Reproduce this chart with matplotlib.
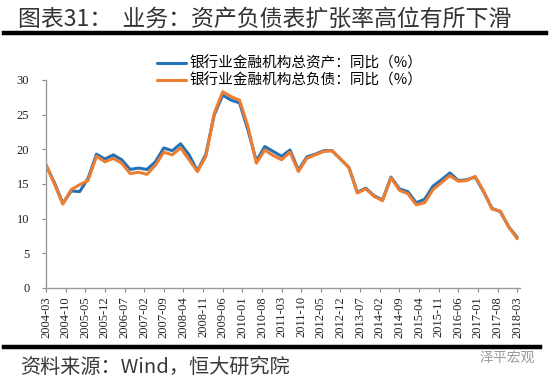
import matplotlib
matplotlib.use("Agg")
import matplotlib.pyplot as plt
from matplotlib.lines import Line2D
import numpy as np
import pandas as pd

plt.rcParams['font.family'] = ['Noto Sans CJK SC', 'DejaVu Sans']

# quarterly observations, 2004-03 .. 2018-03
quarters = pd.period_range('2004-03', '2018-03', freq='Q')
assets_yoy = [17.7, 15.2, 12.2, 14.0, 13.9, 15.8, 19.3, 18.6, 19.2, 18.5,
              17.1, 17.3, 17.1, 18.2, 20.2, 19.8, 20.8, 19.2, 16.9, 19.3,
              25.0, 27.8, 27.1, 26.7, 22.8, 18.3, 20.4, 19.7, 19.0, 19.9,
              17.0, 18.9, 19.3, 19.8, 19.8, 18.6, 17.4, 13.8, 14.4, 13.3,
              12.7, 16.0, 14.3, 13.9, 12.3, 12.8, 14.7, 15.6, 16.6, 15.5,
              15.6, 16.0, 13.9, 11.5, 11.0, 8.8, 7.3]
liab_yoy = [17.8, 15.0, 12.1, 14.2, 14.9, 15.5, 19.0, 18.2, 18.7, 18.0,
            16.5, 16.7, 16.4, 17.7, 19.6, 19.2, 20.2, 18.5, 16.8, 19.0,
            25.2, 28.3, 27.6, 27.1, 23.3, 18.0, 19.9, 19.1, 18.5, 19.6,
            16.8, 18.7, 19.2, 19.7, 19.8, 18.6, 17.4, 13.7, 14.3, 13.2,
            12.6, 15.9, 14.1, 13.6, 12.0, 12.3, 14.2, 15.2, 16.2, 15.4,
            15.5, 16.1, 14.0, 11.4, 11.1, 8.8, 7.1]

tick_labels = ['2004-03', '2004-10', '2005-05', '2005-12', '2006-07', '2007-02',
               '2007-09', '2008-04', '2008-11', '2009-06', '2010-01', '2010-08',
               '2011-03', '2011-10', '2012-05', '2012-12', '2013-07', '2014-02',
               '2014-09', '2015-04', '2015-11', '2016-06', '2017-01', '2017-08',
               '2018-03']

label_assets = '银行业金融机构总资产：同比（%）'
label_liab = '银行业金融机构总负债：同比（%）'

# months since 2004-03
start = pd.Period('2004-03', freq='M')
x = np.array([(q.asfreq('M') - start).n for q in quarters])
tick_x = [(pd.Period(t, freq='M') - start).n for t in tick_labels]

fig = plt.figure(figsize=(5.5, 3.82), dpi=100)
ax = fig.add_axes([46 / 550, 94 / 382, 474 / 550, 208 / 382])

ax.plot(x, assets_yoy, color='#2471B5', lw=2.2, label=label_assets,
        solid_joinstyle='round', solid_capstyle='round')
ax.plot(x, liab_yoy, color='#ED7D31', lw=2.2, label=label_liab,
        solid_joinstyle='round', solid_capstyle='round')

ax.set_xlim(0, 169)
ax.set_ylim(0, 30)
ax.set_yticks(range(0, 31, 5))
ax.set_xticks(tick_x)
ax.set_xticklabels(tick_labels, rotation=90, family='Liberation Serif',
                   fontsize=9, color='#222222')
for t in ax.get_yticklabels():
    t.set_family('Liberation Serif')
    t.set_fontsize(9)
    t.set_color('#222222')
ax.tick_params(axis='y', length=3, pad=9, color='#888888')
ax.tick_params(axis='x', length=3, pad=3, color='#888888')
for s in ['top', 'right']:
    ax.spines[s].set_visible(False)
for s in ['left', 'bottom']:
    ax.spines[s].set_color('#999999')
    ax.spines[s].set_linewidth(1.0)

fig.legend(loc='upper left', bbox_to_anchor=(150 / 550, 1 - 49 / 382),
           frameon=False, borderpad=0, handlelength=2.0, handletextpad=0.2,
           labelspacing=0.2, prop={'family': 'Noto Sans CJK SC', 'size': 10.5})

# header and footer
fig.text(18 / 550, 1 - 19 / 382, '图表31：  业务：资产负债表扩张率高位有所下滑',
         fontsize=16.5, color='#333333', va='center', ha='left')
fig.add_artist(Line2D([4 / 550, 546 / 550], [1 - 33 / 382, 1 - 33 / 382],
                      transform=fig.transFigure, color='black', lw=3.2))
fig.add_artist(Line2D([4 / 550, 540 / 550], [1 - 347 / 382, 1 - 347 / 382],
                      transform=fig.transFigure, color='black', lw=3.2))
fig.text(20 / 550, 1 - 367 / 382, '资料来源：Wind，恒大研究院',
         fontsize=14.5, color='#3a3a3a', va='center', ha='left', style='italic')
fig.text(480 / 550, 1 - 358 / 382, '泽平宏观', fontsize=10, color='#9a9a9a',
         va='center', ha='left')

fig.savefig('out.png', dpi=100)
